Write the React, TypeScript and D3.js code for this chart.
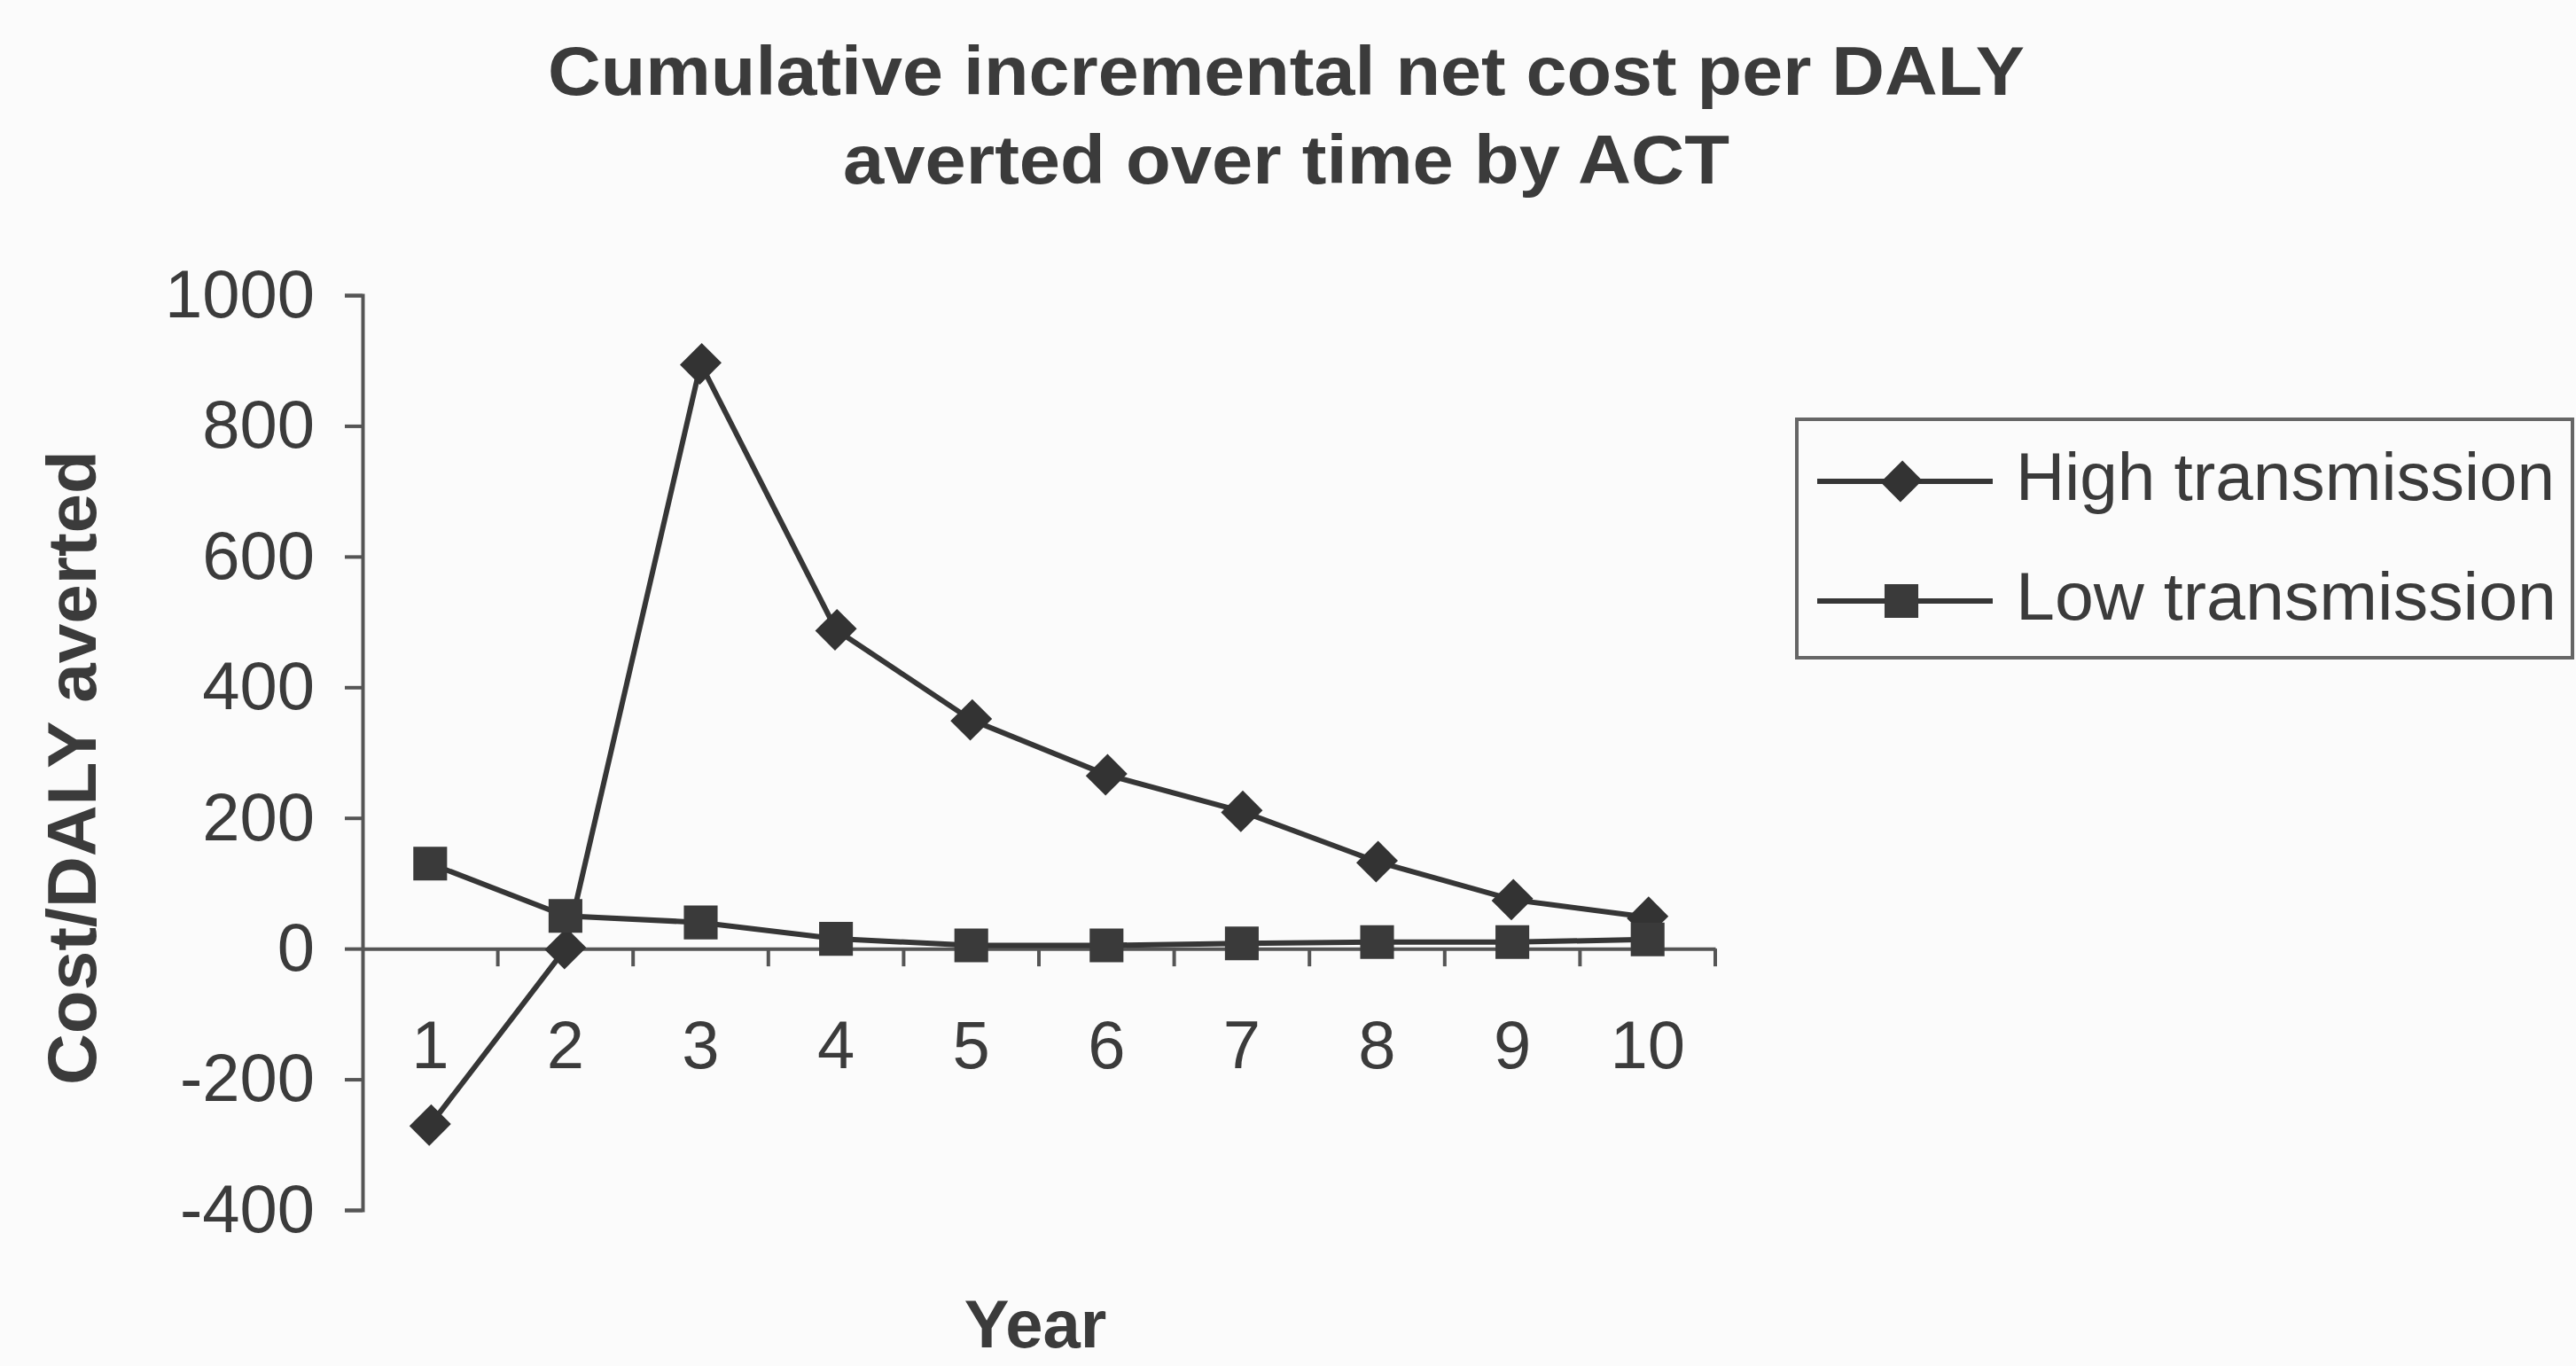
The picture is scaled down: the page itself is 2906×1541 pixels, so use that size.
import { useEffect, useRef } from "react";
import * as d3 from 'd3'

const years = ['1', '2', '3', '4', '5', '6', '7', '8', '9', '10']
const highTransmission = [-270, 0, 895, 488, 350, 266, 210, 133, 75, 48]
const lowTransmission = [130, 50, 40, 15, 5, 5, 8, 10, 10, 14]
const yTicks = [-400, -200, 0, 200, 400, 600, 800, 1000]
const seriesNames = ['High transmission', 'Low transmission']
const titleLines = ['Cumulative incremental net cost per DALY', 'averted over time by ACT']

const W = 2906
const H = 1541
const FONT = '"Liberation Sans", Arial, sans-serif'
const INK = '#3b3b3b'

export function drawMarker(g: any, kind: string, cx: number, cy: number) {
    if (kind === 'diamond') {
        g.append('path')
            .attr('d', d3.symbol().type(d3.symbolSquare).size(1000)())
            .attr('transform', `translate(${cx},${cy}) rotate(45) scale(1,1.1)`)
            .attr('fill', '#333')
    } else {
        g.append('path')
            .attr('d', d3.symbol().type(d3.symbolSquare).size(1450)())
            .attr('transform', `translate(${cx},${cy})`)
            .attr('fill', '#3a3a3a')
    }
}

export default function App() {
    const svgRef = useRef<SVGSVGElement>(null)

    useEffect(() => {
        document.body.style.margin = '0'
        const svg = d3.select(svgRef.current)
        svg.selectAll('*').remove()

        svg.append('rect').attr('width', W).attr('height', H).attr('fill', '#fbfbfb')

        const x = d3.scaleBand().domain(years).range([409, 1935]).padding(0)
        const y = d3.scaleLinear().domain([-400, 1000]).range([1365, 333])
        const cx = (d: string) => (x(d) as number) + x.bandwidth() / 2

        // title
        svg.selectAll('text.title')
            .data(titleLines)
            .join('text')
            .attr('class', 'title')
            .attr('x', 1451)
            .attr('y', (d, i) => 107 + i * 100)
            .attr('text-anchor', 'middle')
            .attr('textLength', (d, i) => i === 0 ? 1666 : 1000)
            .attr('lengthAdjust', 'spacingAndGlyphs')
            .attr('font-family', FONT)
            .attr('font-weight', 'bold')
            .attr('font-size', 77)
            .attr('fill', INK)
            .text(d => d)

        // y axis
        const yAxis = svg.append('g')
            .attr('transform', 'translate(409,0)')
            .call(d3.axisLeft(y).tickValues(yTicks).tickSize(20).tickPadding(34).tickFormat(d => String(d)))
        yAxis.select('.domain').attr('stroke', '#555').attr('stroke-width', 4)
        yAxis.selectAll('.tick line').attr('stroke', '#555').attr('stroke-width', 4)
        yAxis.selectAll('.tick text')
            .attr('font-family', FONT)
            .attr('font-size', 76)
            .attr('fill', INK)

        // x axis at zero
        const xAxis = svg.append('g')
            .attr('transform', `translate(0,${y(0)})`)
            .call(d3.axisBottom(x).tickSize(0).tickPadding(81))
        xAxis.select('.domain').attr('stroke', '#555').attr('stroke-width', 4)
        xAxis.selectAll('.tick text')
            .attr('font-family', FONT)
            .attr('font-size', 76)
            .attr('fill', INK)
        xAxis.selectAll('line.bound')
            .data(d3.range(1, years.length + 1))
            .join('line')
            .attr('class', 'bound')
            .attr('x1', i => 409 + i * x.step())
            .attr('x2', i => 409 + i * x.step())
            .attr('y1', 0)
            .attr('y2', 20)
            .attr('stroke', '#555')
            .attr('stroke-width', 4)

        // axis titles
        svg.append('text')
            .attr('transform', `translate(108,866) rotate(-90)`)
            .attr('text-anchor', 'middle')
            .attr('textLength', 716)
            .attr('lengthAdjust', 'spacingAndGlyphs')
            .attr('font-family', FONT)
            .attr('font-weight', 'bold')
            .attr('font-size', 78)
            .attr('fill', INK)
            .text('Cost/DALY averted')

        svg.append('text')
            .attr('x', 1168)
            .attr('y', 1520)
            .attr('text-anchor', 'middle')
            .attr('font-family', FONT)
            .attr('font-weight', 'bold')
            .attr('font-size', 76)
            .attr('fill', INK)
            .text('Year')

        // series
        const line = d3.line<number>()
            .x((v, i) => cx(years[i]))
            .y(v => y(v))
        const series = [highTransmission, lowTransmission]
        const kinds = ['diamond', 'square']
        series.forEach((vals, s) => {
            const g = svg.append('g')
            g.append('path')
                .attr('d', line(vals))
                .attr('fill', 'none')
                .attr('stroke', '#363636')
                .attr('stroke-width', 6)
            vals.forEach((v, i) => drawMarker(g, kinds[s], cx(years[i]), y(v)))
        })

        // legend
        const lg = svg.append('g')
        lg.append('rect')
            .attr('x', 2027).attr('y', 473)
            .attr('width', 875).attr('height', 269)
            .attr('fill', 'none')
            .attr('stroke', '#666')
            .attr('stroke-width', 4)
        seriesNames.forEach((name, s) => {
            const ly = s === 0 ? 543 : 678
            lg.append('line')
                .attr('x1', 2050).attr('x2', 2248)
                .attr('y1', ly).attr('y2', ly)
                .attr('stroke', '#363636')
                .attr('stroke-width', 6)
            drawMarker(lg, kinds[s], 2145, ly)
            lg.append('text')
                .attr('x', 2274)
                .attr('y', ly + 21)
                .attr('textLength', s === 0 ? 608 : 610)
                .attr('lengthAdjust', 'spacingAndGlyphs')
                .attr('font-family', FONT)
                .attr('font-size', 76)
                .attr('fill', INK)
                .text(name)
        })
    }, [])

    return <svg ref={svgRef} width={W} height={H} style={{ display: 'block' }} />
}
